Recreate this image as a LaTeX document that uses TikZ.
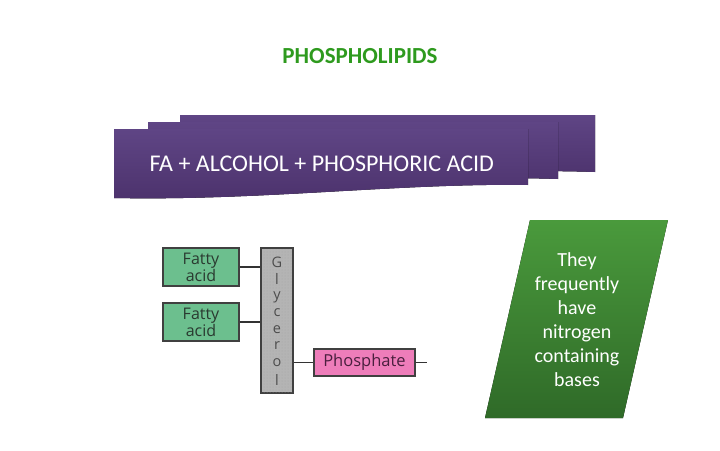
\documentclass[tikz,border=0pt]{standalone}
\usepackage{fontspec}
\setmainfont{Carlito}
\newfontfamily\boxfont{Open Sans}
\usetikzlibrary{patterns}
\definecolor{purpleA}{HTML}{5F4585}
\definecolor{purpleB}{HTML}{4C326C}
\definecolor{titlegreen}{HTML}{2E9A1E}
\definecolor{greenA}{HTML}{4A9A3C}
\definecolor{greenB}{HTML}{2F6A28}
\definecolor{fagreen}{HTML}{6CBF8E}
\definecolor{fatext}{HTML}{2A3A30}
\definecolor{pinkbox}{HTML}{EE7DBA}
\definecolor{phtext}{HTML}{4A1F3E}
\definecolor{glygray}{HTML}{B4B4B4}
\tikzset{
  banner/.style={top color=purpleA, bottom color=purpleB, draw=none},
  fabox/.style={draw=black!75, line width=1.5pt, fill=fagreen, minimum width=76pt, minimum height=38pt, inner sep=0pt, align=center, font=\boxfont\fontsize{16}{14}\selectfont, text=fatext},
  bond/.style={draw=black!80, line width=1.6pt},
}
\begin{document}
\begin{tikzpicture}[x=1pt,y=-1pt]
\useasboundingbox (0,0) rectangle (720,450);
% title
\node[font=\bfseries\fontsize{23}{23}\selectfont, text=titlegreen] (title) at (360,56) {PHOSPHOLIPIDS};
% banners
\fill[banner] (180,115) -- (595,115) -- (595,172) .. controls (480,168) and (300,178) .. (180,180) -- cycle;
\fill[banner] (148,122) -- (558,122) -- (558,179) .. controls (440,175) and (270,186) .. (148,188) -- cycle;
\fill[banner] (114,129) -- (528,129) -- (528,185) .. controls (400,183) and (260,201) .. (114,198) -- cycle;
\node[text=white, font=\fontsize{24}{24}\selectfont, anchor=west] (eq) at (146,164) {FA + ALCOHOL + PHOSPHORIC ACID};
% green parallelogram
\fill[top color=greenA, bottom color=greenB] (530,220) -- (668,220) -- (623,418) -- (485,418) -- cycle;
\node[text=white, align=center, font=\fontsize{20}{24}\selectfont] (note) at (577,320) {They\\frequently\\have\\nitrogen\\containing\\bases};
% diagram
\node[fabox] (fa1) at (201,267) {Fatty\\acid};
\node[fabox] (fa2) at (201,322) {Fatty\\acid};
\node[draw=black!75, line width=1.5pt, fill=glygray, minimum width=32pt, minimum height=145pt, inner sep=0pt] (gly) at (277,320.5) {};
\fill[pattern=dots, pattern color=black!35] (262,249) rectangle (292,392);
\foreach \ch/\yy [count=\i] in {G/262,l/279,y/297,c/313,e/330,r/346,o/363,l/380}
  \node[font=\boxfont\fontsize{14.5}{14.5}\selectfont, text=black!70, inner sep=0pt] (g\i) at (277,\yy) {\ch};
\node[draw=black!75, line width=1.5pt, fill=pinkbox, minimum width=101pt, minimum height=27pt, inner sep=0pt, font=\boxfont\fontsize{16.5}{16}\selectfont, text=phtext] (ph) at (364.5,362.5) {Phosphate};
\coordinate (tail) at (427,362.5);
\draw[bond] (fa1.east) -- (fa1.east -| gly.west);
\draw[bond] (fa2.east) -- (fa2.east -| gly.west);
\draw[bond] (gly.east |- ph.west) -- (ph.west);
\draw[bond] (ph.east) -- (tail);
\end{tikzpicture}
\end{document}
